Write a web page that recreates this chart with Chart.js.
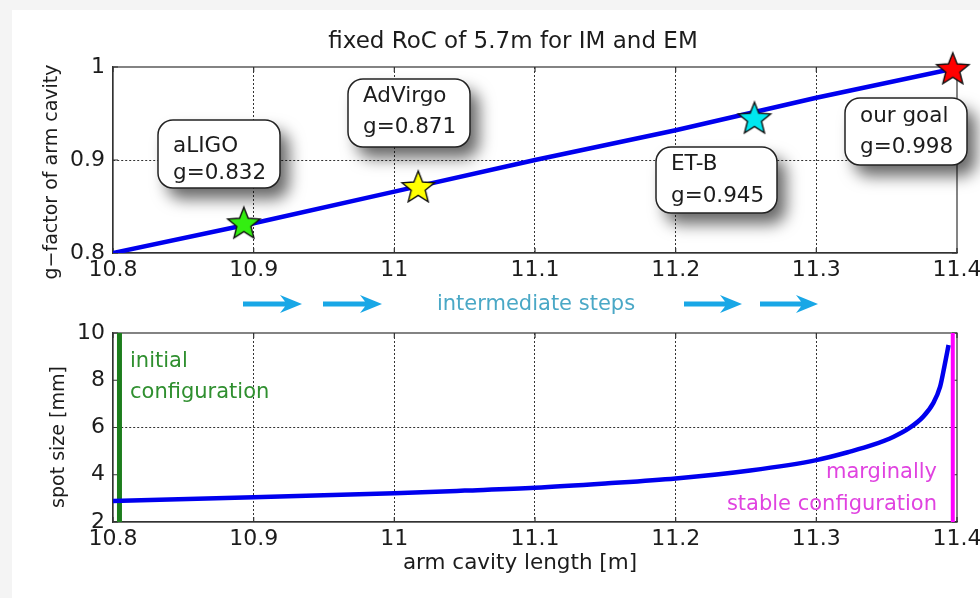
<!DOCTYPE html>
<html>
<head>
<meta charset="utf-8">
<script src="https://cdn.jsdelivr.net/npm/chart.js@4.4.0/dist/chart.umd.min.js"></script>
<style>
  body { margin: 0; width: 980px; height: 598px; overflow: hidden; background: #f4f4f4; position: relative; }
  #panel { position: absolute; left: 12px; top: 10px; width: 968px; height: 588px; background: #fff; }
  #topChart { position: absolute; left: 0; top: 0; }
  #bottomChart { position: absolute; left: 0; top: 290px; }
</style>
</head>
<body>
<div id="panel"></div>
<canvas id="topChart" width="1000" height="290"></canvas>
<canvas id="bottomChart" width="1000" height="308"></canvas>
<script>
// x axis (arm cavity length, m)
const lengthTicks = [10.8, 10.9, 11.0, 11.1, 11.2, 11.3, 11.4];

// top panel: g-factor vs length
const gTicks = [0.8, 0.9, 1.0];
const gLineL = [10.8, 10.9, 11.0, 11.1, 11.2, 11.3, 11.4];
const gLineG = [0.800, 0.832, 0.866, 0.900, 0.932, 0.967, 0.999];

// detector designs marked by stars
const designNames = ['aLIGO', 'AdVirgo', 'ET-B', 'our goal'];
const designL = [10.893, 11.017, 11.256, 11.397];
const designG = [0.832, 0.871, 0.945, 0.998];
const designColors = ['#33ee11', '#ffff00', '#00e8f0', '#ff0000'];

// bottom panel: spot size vs length
const spotTicks = [2, 4, 6, 8, 10];
const spotL = [10.8, 10.9, 11.0, 11.05, 11.1, 11.15, 11.2, 11.253, 11.3, 11.324, 11.34, 11.355, 11.366, 11.376, 11.383, 11.388, 11.391, 11.394];
const spotW = [2.89, 3.05, 3.22, 3.33, 3.45, 3.63, 3.84, 4.18, 4.62, 4.98, 5.26, 5.61, 5.97, 6.46, 7.02, 7.73, 8.57, 9.49];
const initialL = 10.8046;
const marginalL = 11.397;

const FONT = '"DejaVu Sans", sans-serif';
const INK = '#1c1c1c';

// callout boxes (page pixels), text built from the arrays above
const calloutBoxes = [
  { x: 158, y: 120, w: 122, h: 68, dy1: 26, dy2: 53 },
  { x: 348, y: 79, w: 122, h: 68, dy1: 17, dy2: 48 },
  { x: 656, y: 147, w: 121, h: 66, dy1: 17, dy2: 49 },
  { x: 845, y: 98, w: 122, h: 67, dy1: 18, dy2: 49 }
];

function makeStar(fill) {
  const c = document.createElement('canvas');
  c.width = 38; c.height = 38;
  const s = c.getContext('2d');
  s.beginPath();
  for (let i = 0; i < 10; i++) {
    const r = i % 2 ? 7.4 : 17;
    const a = -Math.PI / 2 + i * Math.PI / 5;
    s.lineTo(19 + r * Math.cos(a), 20 + r * Math.sin(a));
  }
  s.closePath();
  s.fillStyle = fill;
  s.fill();
  s.lineWidth = 1.4;
  s.strokeStyle = '#111';
  s.stroke();
  return c;
}

function fmtTick(v) {
  return String(Math.round(v * 10) / 10);
}

function label(ctx, str, x, y, font, color, align, rotate) {
  ctx.save();
  ctx.font = font;
  ctx.fillStyle = color;
  ctx.textAlign = align || 'center';
  ctx.textBaseline = 'middle';
  if (rotate) {
    ctx.translate(x, y);
    ctx.rotate(-Math.PI / 2);
    ctx.fillText(str, 0, 0);
  } else {
    ctx.fillText(str, x, y);
  }
  ctx.restore();
}

// box round the axes plus small inward tick marks, like matlab
function drawFrame(chart) {
  const { ctx, chartArea: a, scales: { x, y } } = chart;
  ctx.save();
  ctx.strokeStyle = '#333';
  ctx.lineWidth = 1.2;
  ctx.strokeRect(a.left, a.top, a.right - a.left, a.bottom - a.top);
  ctx.beginPath();
  x.ticks.forEach(t => {
    const px = x.getPixelForValue(t.value);
    ctx.moveTo(px, a.bottom); ctx.lineTo(px, a.bottom - 5);
    ctx.moveTo(px, a.top); ctx.lineTo(px, a.top + 5);
  });
  y.ticks.forEach(t => {
    const py = y.getPixelForValue(t.value);
    ctx.moveTo(a.left, py); ctx.lineTo(a.left + 5, py);
    ctx.moveTo(a.right, py); ctx.lineTo(a.right - 5, py);
  });
  ctx.stroke();
  ctx.restore();
}

function roundRect(ctx, x, y, w, h, r) {
  ctx.beginPath();
  ctx.moveTo(x + r, y);
  ctx.arcTo(x + w, y, x + w, y + h, r);
  ctx.arcTo(x + w, y + h, x, y + h, r);
  ctx.arcTo(x, y + h, x, y, r);
  ctx.arcTo(x, y, x + w, y, r);
  ctx.closePath();
}

function arrow(ctx, x0, x1, y) {
  ctx.beginPath();
  ctx.moveTo(x0, y - 2.5);
  ctx.lineTo(x1 - 17, y - 2.5);
  ctx.lineTo(x1 - 22, y - 9);
  ctx.lineTo(x1, y);
  ctx.lineTo(x1 - 22, y + 9);
  ctx.lineTo(x1 - 17, y + 2.5);
  ctx.lineTo(x0, y + 2.5);
  ctx.closePath();
  ctx.fill();
}

function xScale(showLabels) {
  return {
    type: 'linear', min: 10.8, max: 11.4,
    afterBuildTicks: s => { s.ticks = lengthTicks.map(v => ({ value: v })); },
    grid: {
      drawTicks: false,
      lineWidth: 1,
      color: c => (c.index === 0 || c.index === lengthTicks.length - 1) ? 'transparent' : '#333'
    },
    border: { display: true, color: '#333', width: 1.2, dash: [2, 2] },
    ticks: { padding: 4, color: INK, font: { family: FONT, size: 22 }, callback: fmtTick, display: showLabels }
  };
}

function yScale(min, max, tickList, gridAt, width) {
  return {
    type: 'linear', min: min, max: max,
    afterBuildTicks: s => { s.ticks = tickList.map(v => ({ value: v })); },
    afterFit: s => { s.width = width; },
    grid: {
      drawTicks: false,
      lineWidth: 1,
      color: c => Math.abs(c.tick.value - gridAt) < 1e-9 ? '#333' : 'transparent'
    },
    border: { display: true, color: '#333', width: 1.2, dash: [2, 2] },
    ticks: { padding: 8, color: INK, font: { family: FONT, size: 22 }, callback: fmtTick }
  };
}

// ---------- top chart ----------
const topDecor = {
  id: 'topDecor',
  beforeDatasetsDraw(chart) { drawFrame(chart); },
  afterDraw(chart) {
    const ctx = chart.ctx;
    label(ctx, 'fixed RoC of 5.7m for IM and EM', 513, 42, '23px ' + FONT, INK);
    label(ctx, 'g\u2212factor of arm cavity', 52, 172, '19px ' + FONT, INK, 'center', true);
    calloutBoxes.forEach((b, i) => {
      ctx.save();
      ctx.shadowColor = 'rgba(0,0,0,0.6)';
      ctx.shadowBlur = 16;
      ctx.shadowOffsetX = 9;
      ctx.shadowOffsetY = 11;
      roundRect(ctx, b.x, b.y, b.w, b.h, 15);
      ctx.fillStyle = '#fff';
      ctx.fill();
      ctx.restore();
      ctx.save();
      roundRect(ctx, b.x, b.y, b.w, b.h, 15);
      ctx.lineWidth = 1.5;
      ctx.strokeStyle = '#222';
      ctx.stroke();
      ctx.restore();
      label(ctx, designNames[i], b.x + 15, b.y + b.dy1, '21.5px ' + FONT, INK, 'left');
      label(ctx, 'g=' + designG[i].toFixed(3), b.x + 15, b.y + b.dy2, '21.5px ' + FONT, INK, 'left');
    });
  }
};

const topX = xScale(true);
topX.afterFit = s => { s.height = 37; };

new Chart(document.getElementById('topChart'), {
  type: 'scatter',
  data: {
    datasets: [{
      label: 'designs',
      data: designL.map((l, i) => ({ x: l, y: designG[i] })),
      pointStyle: designColors.map(makeStar),
      clip: false
    }, {
      label: 'g-factor',
      data: gLineL.map((l, i) => ({ x: l, y: gLineG[i] })),
      showLine: true,
      borderColor: '#0000ee',
      borderWidth: 4.5,
      pointRadius: 0
    }]
  },
  options: {
    responsive: false,
    animation: false,
    layout: { padding: { top: 67, right: 43, left: 0, bottom: 0 } },
    plugins: { legend: { display: false }, tooltip: { enabled: false } },
    scales: { x: topX, y: yScale(0.8, 1.0, gTicks, 0.9, 113) }
  },
  plugins: [topDecor]
});

// ---------- bottom chart ----------
const arrowSpans = [[243, 302], [323, 382], [684, 742], [760, 818]];

const bottomDecor = {
  id: 'bottomDecor',
  beforeDatasetsDraw(chart) { drawFrame(chart); },
  afterDraw(chart) {
    const ctx = chart.ctx;
    ctx.save();
    ctx.fillStyle = '#19a7e6';
    arrowSpans.forEach(s => arrow(ctx, s[0], s[1], 14));
    ctx.restore();
    label(ctx, 'intermediate steps', 536, 15, '21px ' + FONT, '#4aa8c6');
    label(ctx, 'initial', 130, 72, '21px ' + FONT, '#2f8f2f', 'left');
    label(ctx, 'configuration', 130, 103, '21px ' + FONT, '#2f8f2f', 'left');
    label(ctx, 'marginally', 937, 183, '21px ' + FONT, '#e043e0', 'right');
    label(ctx, 'stable configuration', 937, 215, '21px ' + FONT, '#e043e0', 'right');
    label(ctx, 'spot size [mm]', 59, 147, '19px ' + FONT, INK, 'center', true);
    label(ctx, 'arm cavity length [m]', 520, 273, '21.5px ' + FONT, INK);
  }
};

const bottomX = xScale(true);
bottomX.afterFit = s => { s.height = 76; };

new Chart(document.getElementById('bottomChart'), {
  type: 'scatter',
  data: {
    datasets: [{
      label: 'spot size',
      data: spotL.map((l, i) => ({ x: l, y: spotW[i] })),
      showLine: true,
      borderColor: '#0000ee',
      borderWidth: 4.5,
      pointRadius: 0,
      cubicInterpolationMode: 'monotone'
    }, {
      label: 'initial',
      data: [{ x: initialL, y: 2 }, { x: initialL, y: 10 }],
      showLine: true,
      borderColor: '#1c7d1c',
      borderWidth: 5,
      pointRadius: 0
    }, {
      label: 'marginal',
      data: [{ x: marginalL, y: 2 }, { x: marginalL, y: 10 }],
      showLine: true,
      borderColor: '#ff00ff',
      borderWidth: 4,
      pointRadius: 0
    }]
  },
  options: {
    responsive: false,
    animation: false,
    layout: { padding: { top: 43, right: 43, left: 0, bottom: 0 } },
    plugins: { legend: { display: false }, tooltip: { enabled: false } },
    scales: { x: bottomX, y: yScale(2, 10, spotTicks, 6, 113) }
  },
  plugins: [bottomDecor]
});
</script>
</body>
</html>
